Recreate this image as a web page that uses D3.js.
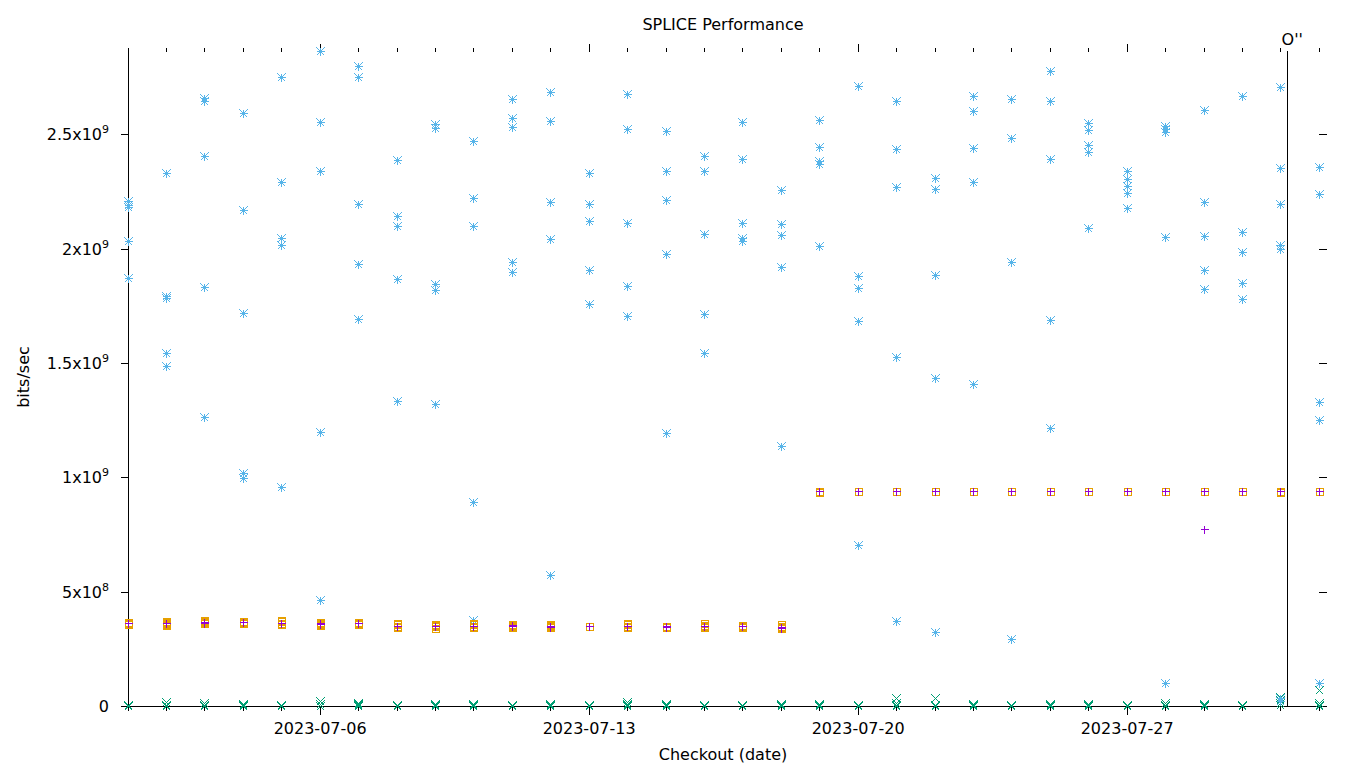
<!DOCTYPE html>
<html>
<head>
<meta charset="utf-8">
<script src="https://cdn.jsdelivr.net/npm/d3@7"></script>
<style>
  html, body { margin: 0; padding: 0; background: #fff; }
  svg { display: block; font-family: "DejaVu Sans", sans-serif; }
</style>
</head>
<body>
<svg id="chart" width="1360" height="768"></svg>
<script>
// ---------- data ----------
const chartTitle = "SPLICE Performance";
const xAxisLabel = "Checkout (date)";
const yAxisLabel = "bits/sec";

const dates = [
  "2023-07-01","2023-07-02","2023-07-03","2023-07-04","2023-07-05","2023-07-06","2023-07-07","2023-07-08",
  "2023-07-09","2023-07-10","2023-07-11","2023-07-12","2023-07-13","2023-07-14","2023-07-15","2023-07-16",
  "2023-07-17","2023-07-18","2023-07-19","2023-07-20","2023-07-21","2023-07-22","2023-07-23","2023-07-24",
  "2023-07-25","2023-07-26","2023-07-27","2023-07-28","2023-07-29","2023-07-30","2023-07-31","2023-08-01"
];

const xTickLabels = ["2023-07-06", "2023-07-13", "2023-07-20", "2023-07-27"];
const yTickValues = [0, 5e8, 1e9, 1.5e9, 2e9, 2.5e9];
const yTickLabels = [["0", ""], ["5x10", "8"], ["1x10", "9"], ["1.5x10", "9"], ["2x10", "9"], ["2.5x10", "9"]];

const markerLines = [{ date: "2023-07-31T04:00:00Z", label: "O''" }];

// series 1: purple "+"
const plusValues = [
  [0.362e9, 0.361e9], [0.365e9, 0.364e9], [0.368e9, 0.366e9, 0.362e9], [0.368e9, 0.366e9],
  [0.361e9, 0.362e9], [0.362e9, 0.360e9, 0.358e9], [0.363e9, 0.361e9], [0.348e9, 0.352e9],
  [0.351e9, 0.349e9], [0.352e9], [0.351e9, 0.353e9], [0.348e9, 0.350e9, 0.346e9],
  [0.348e9, 0.349e9], [0.352e9], [0.346e9, 0.348e9], [0.352e9],
  [0.351e9, 0.352e9], [0.339e9, 0.345e9], [0.940e9, 0.939e9], [0.940e9, 0.940e9],
  [0.940e9, 0.939e9], [0.940e9, 0.940e9], [0.940e9, 0.939e9], [0.940e9, 0.940e9],
  [0.940e9, 0.939e9], [0.940e9, 0.940e9], [0.940e9, 0.939e9], [0.940e9, 0.939e9],
  [0.940e9, 0.775e9], [0.940e9, 0.939e9], [0.940e9, 0.939e9], [0.940e9, 0.939e9]
];

// series 2: green "x"
const crossValues = [
  [0.006e9, 0.002e9, 0.0], [0.018e9, 0.004e9, 0.0], [0.012e9, 0.006e9, 0.001e9], [0.010e9, 0.004e9, 0.0],
  [0.006e9, 0.0], [0.020e9, 0.008e9, 0.0], [0.012e9, 0.008e9, 0.004e9, 0.0], [0.006e9, 0.002e9, 0.0],
  [0.007e9, 0.003e9, 0.0], [0.010e9, 0.004e9, 0.0], [0.006e9, 0.002e9, 0.0], [0.010e9, 0.004e9, 0.0],
  [0.006e9, 0.001e9, 0.0], [0.016e9, 0.010e9, 0.004e9, 0.0], [0.010e9, 0.003e9, 0.0], [0.006e9, 0.001e9],
  [0.006e9, 0.002e9, 0.0], [0.010e9, 0.004e9, 0.0], [0.008e9, 0.003e9, 0.0], [0.006e9, 0.001e9],
  [0.033e9, 0.012e9, 0.004e9, 0.0], [0.035e9, 0.006e9, 0.002e9], [0.010e9, 0.004e9, 0.0], [0.006e9, 0.002e9, 0.0],
  [0.008e9, 0.004e9, 0.0], [0.010e9, 0.005e9, 0.0], [0.006e9, 0.001e9], [0.012e9, 0.006e9, 0.002e9, 0.0],
  [0.008e9, 0.004e9, 0.0], [0.006e9, 0.001e9], [0.040e9, 0.028e9, 0.012e9, 0.005e9], [0.072e9, 0.012e9, 0.005e9, 0.0]
];

// series 3: blue "*"
const starValues = [
  [2.207e9, 2.189e9, 2.181e9, 2.032e9, 1.874e9],
  [2.329e9, 1.791e9, 1.783e9, 1.546e9, 1.485e9],
  [2.657e9, 2.644e9, 2.404e9, 1.831e9, 1.262e9],
  [2.592e9, 2.168e9, 1.721e9, 1.017e9, 0.995e9],
  [2.752e9, 2.293e9, 2.045e9, 2.016e9, 0.959e9],
  [2.864e9, 2.556e9, 2.341e9, 1.199e9, 0.465e9],
  [2.801e9, 2.752e9, 2.197e9, 1.934e9, 1.694e9],
  [2.389e9, 2.141e9, 2.101e9, 1.869e9, 1.335e9],
  [2.544e9, 2.526e9, 1.844e9, 1.821e9, 1.322e9],
  [2.472e9, 2.223e9, 2.101e9, 0.893e9, 0.375e9],
  [2.656e9, 2.570e9, 2.534e9, 1.943e9, 1.899e9],
  [2.687e9, 2.560e9, 2.206e9, 2.044e9, 0.571e9],
  [2.332e9, 2.197e9, 2.122e9, 1.908e9, 1.759e9],
  [2.678e9, 2.525e9, 2.114e9, 1.838e9, 1.707e9],
  [2.516e9, 2.341e9, 2.214e9, 1.978e9, 1.195e9],
  [2.407e9, 2.341e9, 2.066e9, 1.716e9, 1.545e9],
  [2.556e9, 2.394e9, 2.114e9, 2.048e9, 2.033e9],
  [2.258e9, 2.109e9, 2.061e9, 1.921e9, 1.138e9],
  [2.564e9, 2.446e9, 2.385e9, 2.370e9, 2.013e9],
  [2.713e9, 1.882e9, 1.829e9, 1.685e9, 0.706e9],
  [2.647e9, 2.437e9, 2.271e9, 1.528e9, 0.373e9],
  [2.311e9, 2.262e9, 1.886e9, 1.436e9, 0.325e9],
  [2.669e9, 2.604e9, 2.442e9, 2.293e9, 1.409e9],
  [2.656e9, 2.486e9, 1.943e9, 0.294e9],
  [2.779e9, 2.647e9, 2.394e9, 1.689e9, 1.217e9],
  [2.551e9, 2.521e9, 2.452e9, 2.424e9, 2.092e9],
  [2.339e9, 2.306e9, 2.274e9, 2.245e9, 2.179e9],
  [2.536e9, 2.522e9, 2.512e9, 2.053e9, 0.101e9],
  [2.608e9, 2.206e9, 2.057e9, 1.908e9, 1.825e9],
  [2.669e9, 2.074e9, 1.987e9, 1.851e9, 1.781e9],
  [2.709e9, 2.354e9, 2.197e9, 2.016e9, 2.000e9, 0.033e9, 0.024e9],
  [2.359e9, 2.241e9, 1.331e9, 1.252e9, 0.101e9]
];

// series 4: orange open boxes
const boxValues = [
  [0.367e9, 0.365e9, 0.362e9, 0.360e9], [0.372e9, 0.368e9, 0.364e9, 0.360e9, 0.356e9],
  [0.376e9, 0.371e9, 0.366e9, 0.363e9], [0.372e9, 0.369e9, 0.365e9, 0.363e9],
  [0.376e9, 0.372e9, 0.365e9, 0.360e9], [0.367e9, 0.364e9, 0.358e9, 0.354e9],
  [0.367e9, 0.364e9, 0.362e9, 0.357e9], [0.363e9, 0.357e9, 0.352e9, 0.346e9],
  [0.359e9, 0.353e9, 0.348e9, 0.341e9], [0.363e9, 0.357e9, 0.350e9, 0.346e9],
  [0.359e9, 0.354e9, 0.350e9, 0.346e9], [0.359e9, 0.354e9, 0.349e9, 0.345e9],
  [0.350e9, 0.349e9, 0.348e9], [0.363e9, 0.357e9, 0.350e9, 0.346e9],
  [0.350e9, 0.348e9, 0.346e9], [0.363e9, 0.356e9, 0.350e9, 0.346e9],
  [0.354e9, 0.351e9, 0.347e9], [0.359e9, 0.352e9, 0.347e9, 0.341e9],
  [0.941e9, 0.940e9, 0.938e9], [0.940e9, 0.940e9], [0.940e9, 0.939e9], [0.940e9, 0.940e9],
  [0.940e9, 0.939e9], [0.940e9, 0.940e9], [0.940e9, 0.939e9], [0.940e9, 0.940e9],
  [0.940e9, 0.939e9], [0.940e9, 0.940e9], [0.940e9, 0.939e9], [0.940e9, 0.940e9],
  [0.941e9, 0.939e9, 0.938e9], [0.940e9, 0.939e9]
];

// ---------- layout ----------
const plot = { left: 128, right: 1319.3, top: 48, bottom: 706.5 };
const colors = { plus: "#9400d3", cross: "#009e73", star: "#56b4e9", box: "#e69f00" };

const parseDay = d3.utcParse("%Y-%m-%d");
const dayDates = dates.map(parseDay);

const x = d3.scaleUtc()
  .domain([dayDates[0], dayDates[dayDates.length - 1]])
  .range([plot.left, plot.right]);
const y = d3.scaleLinear().domain([0, 2.88e9]).range([plot.bottom, plot.top]);

const svg = d3.select("#chart");
const axisColor = "#000";

function flatten(values) {
  const out = [];
  values.forEach((vals, i) => vals.forEach(v => out.push({ date: dayDates[i], value: v })));
  return out;
}
const px = v => Math.round(v - 0.5) + 0.5;

// ---------- axes & ticks ----------
const g = svg.append("g").attr("shape-rendering", "crispEdges");

g.append("line").attr("x1", plot.left).attr("x2", plot.left)
  .attr("y1", plot.top).attr("y2", plot.bottom).attr("stroke", axisColor);
g.append("line").attr("x1", plot.left).attr("x2", plot.right + 8)
  .attr("y1", plot.bottom).attr("y2", plot.bottom).attr("stroke", axisColor);

const majorDates = xTickLabels.map(parseDay);
g.selectAll(".xminor").data(dayDates).join("line")
  .attr("x1", d => x(d)).attr("x2", d => x(d))
  .attr("y1", plot.bottom).attr("y2", plot.bottom + 4).attr("stroke", axisColor);
g.selectAll(".xminorTop").data(dayDates).join("line")
  .attr("x1", d => x(d)).attr("x2", d => x(d))
  .attr("y1", plot.top).attr("y2", plot.top + 4).attr("stroke", axisColor);
g.selectAll(".xmajor").data(majorDates).join("line")
  .attr("x1", d => x(d)).attr("x2", d => x(d))
  .attr("y1", plot.bottom).attr("y2", plot.bottom + 8).attr("stroke", axisColor);
g.selectAll(".xmajorTop").data(majorDates).join("line")
  .attr("x1", d => x(d)).attr("x2", d => x(d))
  .attr("y1", plot.top - 4).attr("y2", plot.top + 4).attr("stroke", axisColor);

svg.selectAll(".xlabel").data(xTickLabels).join("text")
  .attr("x", d => x(parseDay(d))).attr("y", 734)
  .attr("text-anchor", "middle").attr("font-size", 16).attr("fill", "#000")
  .text(d => d);

g.selectAll(".ytickL").data(yTickValues).join("line")
  .attr("x1", plot.left - 7).attr("x2", plot.left)
  .attr("y1", d => y(d)).attr("y2", d => y(d)).attr("stroke", axisColor);
g.selectAll(".ytickR").data(yTickValues).join("line")
  .attr("x1", plot.right).attr("x2", plot.right + 8)
  .attr("y1", d => y(d)).attr("y2", d => y(d)).attr("stroke", axisColor);

const yLab = svg.selectAll(".ylabel").data(yTickValues).join("text")
  .attr("x", 109).attr("y", d => y(d) + 5.5)
  .attr("text-anchor", "end").attr("font-size", 16).attr("fill", "#000");
yLab.append("tspan").text((d, i) => yTickLabels[i][0]);
yLab.append("tspan").attr("font-size", 11).attr("dy", -7).text((d, i) => yTickLabels[i][1]);

markerLines.forEach(m => {
  const mx = x(new Date(m.date));
  g.append("line").attr("x1", mx).attr("x2", mx)
    .attr("y1", 51).attr("y2", plot.bottom).attr("stroke", axisColor);
  svg.append("text").attr("x", mx + 5).attr("y", 45)
    .attr("text-anchor", "middle").attr("font-size", 16).attr("fill", "#000").text(m.label);
});

svg.append("text").attr("x", 723).attr("y", 30).attr("text-anchor", "middle")
  .attr("font-size", 16).attr("fill", "#000").text(chartTitle);
svg.append("text").attr("x", 723).attr("y", 760).attr("text-anchor", "middle")
  .attr("font-size", 16).attr("fill", "#000").text(xAxisLabel);
svg.append("text").attr("transform", "translate(29,377) rotate(-90)")
  .attr("text-anchor", "middle").attr("font-size", 16).attr("fill", "#000").text(yAxisLabel);

// ---------- marks ----------
const s = 4;
const b = 3.5;
const marks = svg.append("g").attr("fill", "none").attr("stroke-width", 1)
  .attr("shape-rendering", "crispEdges");

marks.append("g").attr("stroke", colors.cross)
  .selectAll("path").data(flatten(crossValues)).join("path")
  .attr("d", d => {
    const cx = px(x(d.date)), cy = px(y(d.value));
    return `M${cx - s},${cy - s}L${cx + s},${cy + s}M${cx - s},${cy + s}L${cx + s},${cy - s}`;
  });

marks.append("g").attr("stroke", colors.star)
  .selectAll("path").data(flatten(starValues)).join("path")
  .attr("d", d => {
    const cx = px(x(d.date)), cy = px(y(d.value));
    return `M${cx - s},${cy}L${cx + s},${cy}M${cx},${cy - s}L${cx},${cy + s}` +
      `M${cx - s},${cy - s}L${cx + s},${cy + s}M${cx - s},${cy + s}L${cx + s},${cy - s}`;
  });

marks.append("g").attr("stroke", colors.box)
  .selectAll("rect").data(flatten(boxValues)).join("rect")
  .attr("x", d => px(x(d.date)) - b).attr("y", d => px(y(d.value)) - b)
  .attr("width", 2 * b).attr("height", 2 * b);

marks.append("g").attr("stroke", colors.plus)
  .selectAll("path").data(flatten(plusValues)).join("path")
  .attr("d", d => {
    const cx = px(x(d.date)), cy = px(y(d.value));
    return `M${cx - 4},${cy}L${cx + 4},${cy}M${cx},${cy - 4}L${cx},${cy + 4}`;
  });
</script>
</body>
</html>
